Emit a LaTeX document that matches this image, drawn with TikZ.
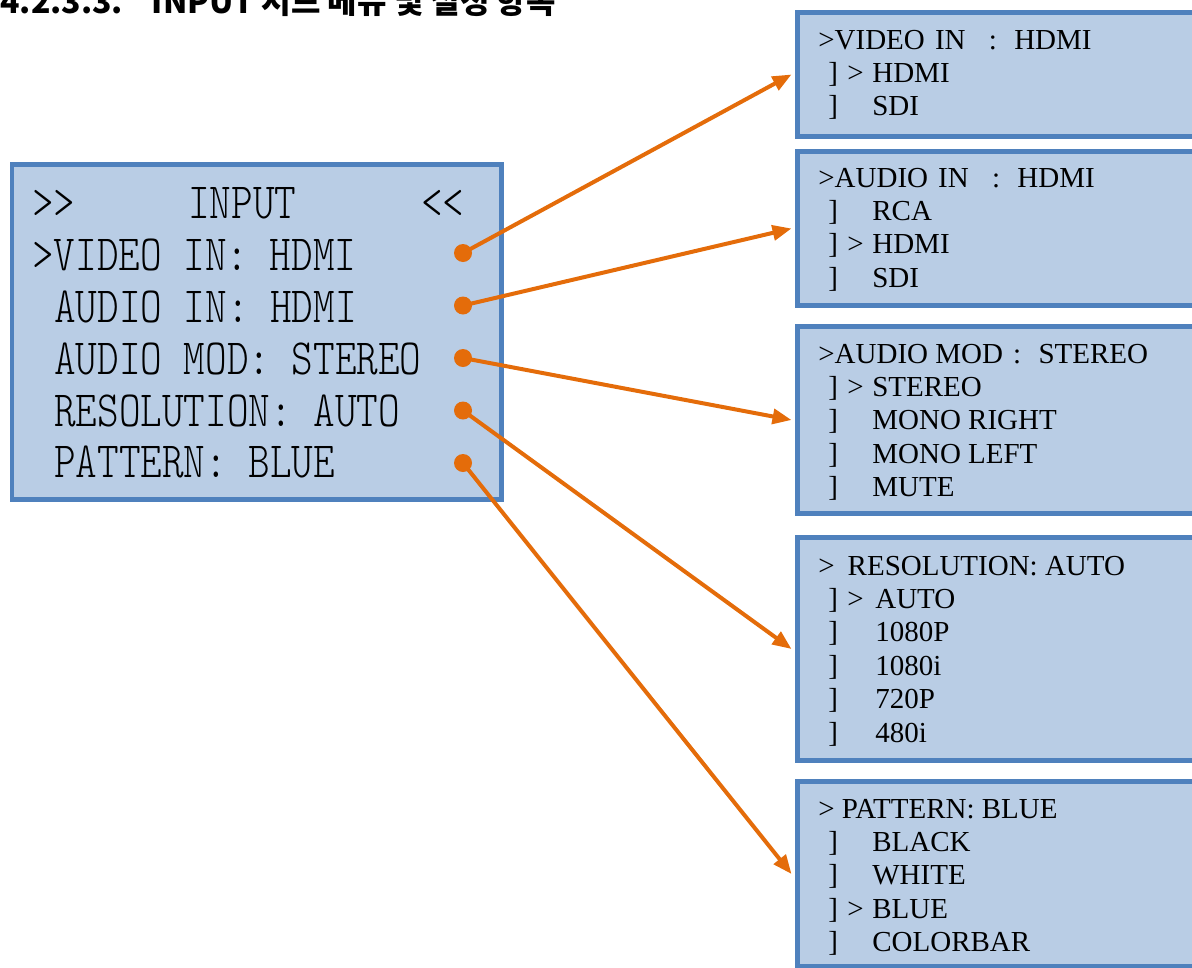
\documentclass[tikz,border=0pt]{standalone}
\usepackage{fontspec}
\setmainfont{Liberation Serif}
\newfontfamily\krfont{Noto Sans CJK KR}
\newfontfamily\lcdfont{lmmonolt10-regular}[Extension=.otf,FakeStretch=0.81]
\usetikzlibrary{shapes,arrows.meta}
\definecolor{boxline}{HTML}{4F81BD}
\definecolor{boxfill}{HTML}{B9CDE5}
\definecolor{linkc}{HTML}{E46C0A}

\begin{document}
\begin{tikzpicture}[x=0.02cm,y=-0.02cm]
  % Local definitions
  \def\pitch{33.4}
  % Styles
  \tikzstyle{menu}=[draw=boxline,fill=boxfill,line width=0.1cm,inner sep=0,anchor=north west]
  \tikzstyle{lcd}=[inner sep=0,anchor=base west,font=\lcdfont\fontsize{28.9}{30}\selectfont\frenchspacing]
  \tikzstyle{sub}=[inner sep=0,anchor=base west,font=\fontsize{16.5}{18}\selectfont]
  \tikzstyle{knob}=[circle,fill=linkc,inner sep=0,minimum size=0.36cm]
  \tikzstyle{link}=[draw=linkc,line width=0.08cm,-{Triangle[length=0.38cm,width=0.3cm]}]

  \clip (0,0) rectangle (1192,967);

  % Title (cut at the top)
  \node[inner sep=0,anchor=base west,font=\krfont\bfseries\fontsize{18.2}{20}\selectfont]
    (ttl) at (0,13) {4.2.3.3.\hspace{0.9em}INPUT 서브 메뉴 및 설정 항목};

  % The main menu
  \node[menu,minimum width=9.8cm,minimum height=6.72cm] (inp) at (9.5,161.5) {};
  \node[lcd] (hl) at (32,218) {>>};
  \node[lcd] (hm) at (188,218) {INPUT};
  \node[lcd] (hr) at (421,218) {<<};
  \node[lcd] (m1) at (32,270) {>VIDEO IN: HDMI};
  \node[lcd] (m2) at (54,322) {AUDIO IN: HDMI};
  \node[lcd] (m3) at (54,374) {AUDIO MOD: STEREO};
  \node[lcd] (m4) at (54,426) {RESOLUTION: AUTO};
  \node[lcd] (m5) at (54,477) {PATTERN: BLUE};
  \foreach \i in {1,...,5}
    \node[knob] (d\i) at (463,{253+52.5*(\i-1)}) {};

  % Video in
  \node[menu,minimum width=8.5cm,minimum height=2.5cm] (vid) at (794.5,9.5) {};
  \node[sub] (vh) at (818,49) {>VIDEO\hspace{0.35em}IN\hspace{0.8em}:\hspace{0.6em}HDMI};
  \foreach \t [count=\i] in {HDMI,SDI} {
    \node[sub] (vb\i) at (828,49+\pitch*\i) {]};
    \node[sub] (vo\i) at (872,49+\pitch*\i) {\t};
  }
  \node[sub] (vs) at (847,49+\pitch) {>};

  % Audio in
  \node[menu,minimum width=8.5cm,minimum height=3.1cm] (aud) at (794.5,148.5) {};
  \node[sub] (ah) at (818,187) {>AUDIO\hspace{0.35em}IN\hspace{0.8em}:\hspace{0.6em}HDMI};
  \foreach \t [count=\i] in {RCA,HDMI,SDI} {
    \node[sub] (ab\i) at (828,187+\pitch*\i) {]};
    \node[sub] (ao\i) at (872,187+\pitch*\i) {\t};
  }
  \node[sub] (as) at (847,187+2*\pitch) {>};

  % Audio mode
  \node[menu,minimum width=8.5cm,minimum height=3.76cm] (mod) at (794.5,323.5) {};
  \node[sub] (oh) at (818,363) {>AUDIO MOD\hspace{0.35em}:\hspace{0.6em}STEREO};
  \foreach \t [count=\i] in {STEREO,MONO RIGHT,MONO LEFT,MUTE} {
    \node[sub] (ob\i) at (828,363+\pitch*\i) {]};
    \node[sub] (oo\i) at (872,363+\pitch*\i) {\t};
  }
  \node[sub] (os) at (847,363+\pitch) {>};

  % Resolution
  \node[menu,minimum width=8.5cm,minimum height=4.48cm] (res) at (794.5,534.5) {};
  \node[sub] (rh) at (818,575) {>\hspace{0.45em}RESOLUTION: AUTO};
  \foreach \t [count=\i] in {AUTO,1080P,1080i,720P,480i} {
    \node[sub] (rb\i) at (828,575+\pitch*\i) {]};
    \node[sub] (ro\i) at (875,575+\pitch*\i) {\t};
  }
  \node[sub] (rs) at (847,575+\pitch) {>};

  % Pattern
  \node[menu,minimum width=8.5cm,minimum height=3.72cm] (pat) at (794.5,778.5) {};
  \node[sub] (ph) at (818,818) {> PATTERN: BLUE};
  \foreach \t [count=\i] in {BLACK,WHITE,BLUE,COLORBAR} {
    \node[sub] (pb\i) at (828,818+\pitch*\i) {]};
    \node[sub] (po\i) at (872,818+\pitch*\i) {\t};
  }
  \node[sub] (ps) at (847,818+3*\pitch) {>};

  % Links
  \foreach \d/\b in {1/vid,2/aud,3/mod,4/res,5/pat}
    \draw[link] (d\d.center) -- ([xshift=-0.06cm]\b.west);
\end{tikzpicture}
\end{document}
